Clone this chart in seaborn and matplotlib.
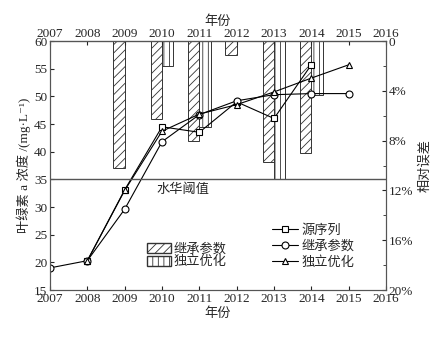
import numpy as np
import pandas as pd
import seaborn as sns
import matplotlib.pyplot as plt
from matplotlib.lines import Line2D
from matplotlib.patches import Patch

# chlorophyll-a concentration (mg/L)
src_years = [2008, 2009, 2010, 2011, 2012, 2013, 2014]
src_vals = [20.3, 33.1, 44.5, 43.5, 49.0, 46.0, 55.7]
inh_years = [2007, 2008, 2009, 2010, 2011, 2012, 2013, 2014, 2015]
inh_vals = [19.0, 20.3, 29.6, 41.8, 46.7, 49.2, 50.3, 50.5, 50.5]
ind_years = [2008, 2009, 2010, 2011, 2012, 2013, 2014, 2015]
ind_vals = [20.3, 33.0, 43.7, 46.8, 48.5, 50.8, 53.3, 55.7]

# relative error (%)
err_inh_years = [2009, 2010, 2011, 2012, 2013, 2014]
err_inh = [10.2, 6.3, 8.0, 1.1, 9.7, 9.0]
err_ind_years = [2010, 2011, 2013, 2014]
err_ind = [2.0, 6.9, 11.1, 4.3]

threshold = 35
years = list(range(2007, 2017))

sns.set_style("ticks")
plt.rcParams['font.family'] = ['Liberation Serif', 'Noto Sans CJK SC', 'DejaVu Serif']
plt.rcParams['font.size'] = 9.5
plt.rcParams['hatch.linewidth'] = 0.6
plt.rcParams['axes.linewidth'] = 0.8

fig = plt.figure(figsize=(4.36, 3.39), dpi=100)
ax = fig.add_axes([0.1147, 0.1445, 0.7706, 0.7345])
ax2 = ax.twinx()

# bars on the right (inverted) axis
ax2.bar(np.array(err_inh_years) - 0.15, err_inh, width=0.3, bottom=0,
        color='white', edgecolor='#333333', hatch='////', linewidth=0.7)
ax2.bar(np.array(err_ind_years) + 0.15, err_ind, width=0.3, bottom=0,
        color='white', edgecolor='#333333', hatch='|||', linewidth=0.7)
ax2.set_ylim(20, 0)
ax2.set_yticks([0, 4, 8, 12, 16, 20])
ax2.set_yticklabels(['0', '4%', '8%', '12%', '16%', '20%'])
ax2.set_yticks([2, 6, 10, 14, 18], minor=True)
ax2.set_ylabel('相对误差', rotation=90, labelpad=4)

ax.set_zorder(ax2.get_zorder() + 1)
ax.patch.set_visible(False)

src = pd.DataFrame({'year': src_years, 'val': src_vals})
inh = pd.DataFrame({'year': inh_years, 'val': inh_vals})
ind = pd.DataFrame({'year': ind_years, 'val': ind_vals})
mk = dict(color='black', linewidth=0.8, markersize=5,
          markerfacecolor='white', markeredgecolor='black', markeredgewidth=0.8)
sns.lineplot(data=src, x='year', y='val', marker='s', ax=ax, **mk)
sns.lineplot(data=inh, x='year', y='val', marker='o', ax=ax, **mk)
sns.lineplot(data=ind, x='year', y='val', marker='^', ax=ax, **mk)

ax.axhline(threshold, color='#555555', linewidth=1.0)
ax.text(2010.56, 33.2, '水华阈值', ha='center', va='center')

ax.set_xlim(2007, 2016)
ax.set_ylim(15, 60)
ax.set_xticks(years)
ax.set_yticks(range(15, 61, 5))
ax.set_xlabel('年份', labelpad=2)
ax.set_ylabel('叶绿素 a 浓度 /(mg·L⁻¹)', labelpad=2)

top = ax.secondary_xaxis('top')
top.set_xticks(years)
top.set_xlabel('年份', labelpad=2)
top.tick_params(direction='in', length=3, pad=1)

for a in (ax, ax2):
    a.tick_params(direction='in', length=3, pad=2)
    a.tick_params(which='minor', direction='in', length=2)
    for s in a.spines.values():
        s.set_color('#555555')

bar_handles = [Patch(facecolor='white', edgecolor='#333333', hatch='////', label='继承参数'),
               Patch(facecolor='white', edgecolor='#333333', hatch='|||', label='独立优化')]
leg1 = ax.legend(handles=bar_handles, loc='upper left', bbox_to_anchor=(0.27, 0.215),
                 frameon=False, handlelength=1.8, handleheight=0.8,
                 handletextpad=0.2, labelspacing=0.0, borderpad=0)
ax.add_artist(leg1)
line_handles = [Line2D([], [], marker=m, label=l, **mk)
                for m, l in zip(['s', 'o', '^'], ['源序列', '继承参数', '独立优化'])]
ax.legend(handles=line_handles, loc='upper left', bbox_to_anchor=(0.64, 0.29),
          frameon=False, handlelength=2.0, handletextpad=0.3, labelspacing=0.25,
          borderpad=0)

fig.savefig('out.png', dpi=100)
